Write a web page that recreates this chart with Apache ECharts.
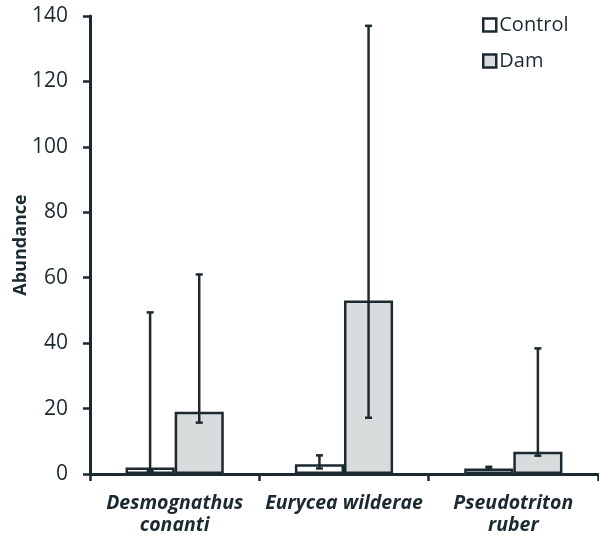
<!DOCTYPE html>
<html><head><meta charset="utf-8">
<script src="https://cdn.jsdelivr.net/npm/echarts@6/dist/echarts.min.js"></script>
<style>html,body{margin:0;padding:0;background:#fff}#c{width:599px;height:538px}</style>
</head><body><div id="c"></div>
<script>
var categories = ['Desmognathus\nconanti', 'Eurycea wilderae', 'Pseudotriton\nruber'];
var controlValues = [2.0, 3.0, 1.7];
var damValues = [19.0, 53.0, 6.8];
var controlLow = [0.9, 1.7, 1.4];
var controlHigh = [49.4, 5.7, 2.2];
var damLow = [15.7, 17.2, 5.6];
var damHigh = [61.0, 137.0, 38.4];
var yTicks = [0, 20, 40, 60, 80, 100, 120, 140];

var dark = '#1b2a30';
var chart = echarts.init(document.getElementById('c'));
var FONT = '"Open Sans", "Noto Sans", sans-serif';

function errSeries(name, low, high, sign) {
  return {
    type: 'custom', name: name + ' err', silent: true, z: 5,
    data: low.map(function (l, i) { return [i, l, high[i]]; }),
    renderItem: function (params, api) {
      var band = api.size([1, 0])[0];
      var off = sign * band * 0.145;
      var p1 = api.coord([api.value(0), api.value(1)]);
      var p2 = api.coord([api.value(0), api.value(2)]);
      var x = p1[0] + off;
      var cw = 3.5;
      var st = { stroke: dark, lineWidth: 2.5 };
      return { type: 'group', children: [
        { type: 'line', shape: { x1: x, y1: p1[1], x2: x, y2: p2[1] }, style: st },
        { type: 'line', shape: { x1: x - cw, y1: p1[1], x2: x + cw, y2: p1[1] }, style: st },
        { type: 'line', shape: { x1: x - cw, y1: p2[1], x2: x + cw, y2: p2[1] }, style: st }
      ]};
    }
  };
}

chart.setOption({
  animation: false,
  backgroundColor: '#fff',
  grid: { left: 90, right: 1, top: 16, bottom: 64, containLabel: false, outerBoundsMode: 'none' },
  legend: {
    orient: 'vertical', left: 477, top: 10, itemGap: 16,
    icon: 'rect', itemWidth: 13, itemHeight: 13,
    textStyle: { fontFamily: FONT, fontSize: 20, color: dark, padding: [0, 0, 0, -2] },
    data: [
      { name: 'Control', itemStyle: { color: '#fff', borderColor: dark, borderWidth: 2.5 } },
      { name: 'Dam', itemStyle: { color: '#d9dcdc', borderColor: dark, borderWidth: 2.5 } }
    ]
  },
  xAxis: {
    type: 'category', data: categories,
    axisLine: { lineStyle: { color: dark, width: 3 } },
    axisTick: { show: true, length: 7, lineStyle: { color: dark, width: 2.5 } },
    axisLabel: { interval: 0, fontFamily: FONT, fontSize: 19.5, fontWeight: 'bold', fontStyle: 'italic', color: dark, lineHeight: 22, margin: 18 }
  },
  yAxis: {
    type: 'value', min: yTicks[0], max: yTicks[yTicks.length - 1], interval: 20,
    name: 'Abundance', nameLocation: 'middle', nameGap: 60, nameRotate: 90, nameMoveOverlap: false,
    nameTextStyle: { fontFamily: FONT, fontSize: 18, fontWeight: 'bold', color: dark },
    axisLine: { show: true, lineStyle: { color: dark, width: 3 } },
    axisTick: { show: true, length: 7, lineStyle: { color: dark, width: 2.5 } },
    axisLabel: { fontFamily: FONT, fontSize: 21, color: dark, margin: 22 },
    splitLine: { show: false }
  },
  series: [
    { type: 'bar', name: 'Control', data: controlValues, barWidth: '29%', barGap: '0%',
      itemStyle: { color: '#fff', borderColor: dark, borderWidth: 2.5 } },
    { type: 'bar', name: 'Dam', data: damValues, barWidth: '29%', barGap: '0%',
      itemStyle: { color: '#d9dcdc', borderColor: dark, borderWidth: 2.5 } },
    errSeries('Control', controlLow, controlHigh, -1),
    errSeries('Dam', damLow, damHigh, 1)
  ]
});
</script></body></html>
